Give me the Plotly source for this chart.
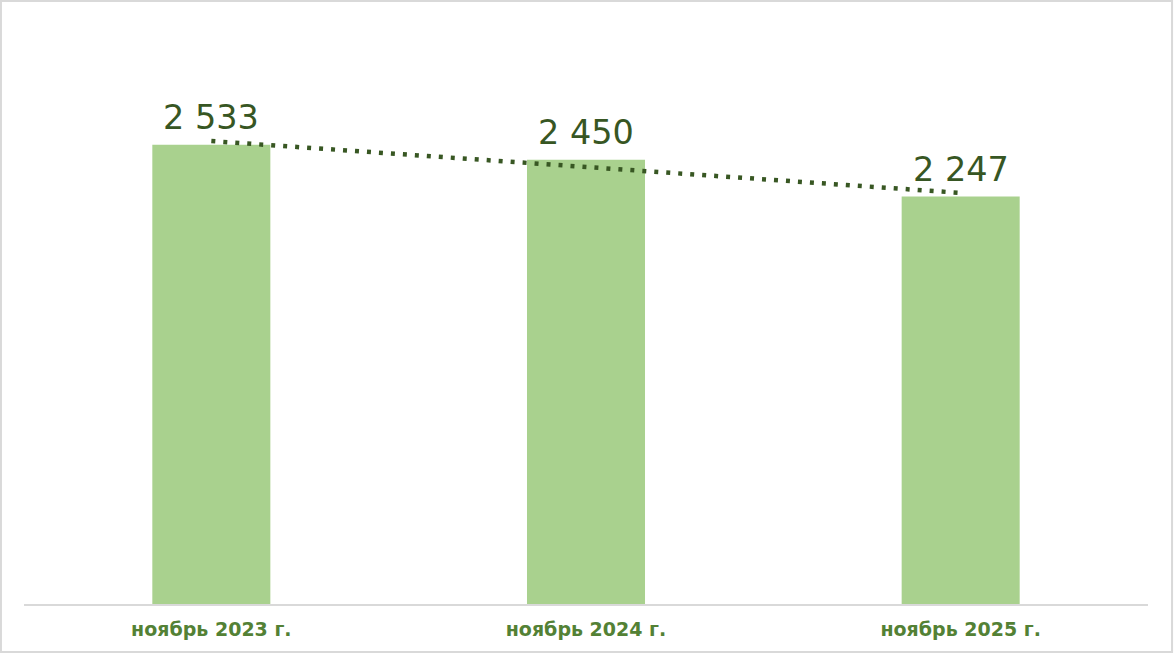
import numpy as np
import plotly.graph_objects as go

categories = ["ноябрь 2023 г.", "ноябрь 2024 г.", "ноябрь 2025 г."]
values = [2533, 2450, 2247]
labels = ["2 533", "2 450", "2 247"]

xpos = list(range(len(categories)))
coef = np.polyfit(xpos, values, 1)
trend = [coef[0] * x + coef[1] for x in xpos]

fig = go.Figure()
fig.add_trace(go.Bar(
    x=xpos, y=values, width=0.315,
    marker=dict(color="#a9d18e", line=dict(width=0)),
    hoverinfo="skip",
))
fig.add_trace(go.Scatter(
    x=xpos, y=trend, mode="lines",
    line=dict(color="#385723", width=4.5, dash="4px,8px"),
    hoverinfo="skip",
))
for x, v, t in zip(xpos, values, labels):
    fig.add_annotation(
        x=x, y=v, text=t, showarrow=False, yanchor="bottom",
        yshift=6, font=dict(family="DejaVu Sans", size=33.5, color="#375623"),
    )

fig.add_shape(type="rect", xref="paper", yref="paper",
              x0=-0.0205, x1=1.0214, y0=-0.0882, y1=1.1085,
              line=dict(color="#d9d9d9", width=2), layer="below")

fig.update_layout(
    width=1174, height=654,
    margin=dict(l=24, r=26, t=60, b=50),
    paper_bgcolor="white", plot_bgcolor="white",
    showlegend=False,
    xaxis=dict(
        range=[-0.5, 2.5], tickvals=xpos, ticktext=categories,
        showgrid=False, zeroline=False, showline=True,
        linecolor="#d9d9d9", linewidth=2, ticks="",
        tickfont=dict(family="DejaVu Sans", size=19, color="#538135", weight="bold"),
        ticklabelstandoff=7,
    ),
    yaxis=dict(range=[0, 3000], visible=False),
)
fig.write_html(
    "out.html",
    config={"displayModeBar": False},
    post_script="document.body.style.margin='0';document.body.style.overflow='hidden';",
)
